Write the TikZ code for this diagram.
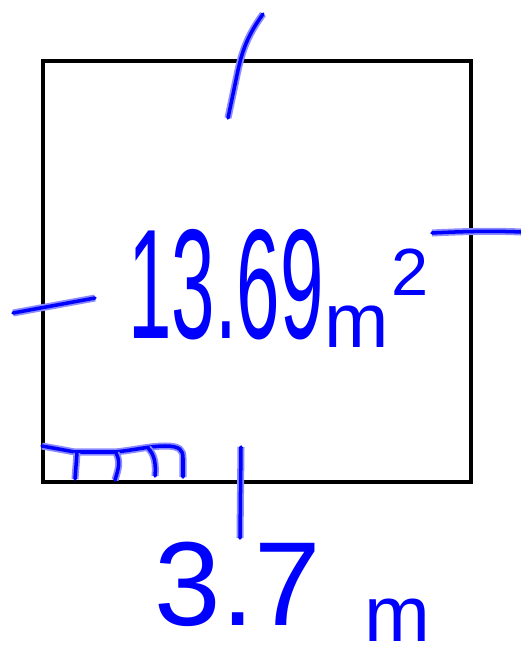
\documentclass[tikz,border=0pt]{standalone}
\usepackage{fontspec}
\setmainfont{Liberation Sans}
\usepackage{graphicx}
\tikzset{
  side/.style={draw=black, line width=2.6pt, line cap=rect},
  ink/.style={draw=blue, line width=2pt, line cap=round, line join=round,
    preaction={draw=blue!45, line width=4pt}},
  hand/.style={text=blue, inner sep=0pt}
}
\begin{document}
\begin{tikzpicture}[x=0.02cm, y=-0.02cm]
\useasboundingbox (0,0) rectangle (521,660);
\draw[side] (43,61) rectangle (471,482);
% tick marks on the four sides
\draw[ink] (263,14) .. controls (248,35) and (242,50) .. (237,75) -- (228,118);
\draw[ink] (13,313) -- (95,298);
\draw[ink] (432,233) .. controls (470,231) and (500,231) .. (521,232);
\draw[ink] (241,447) -- (240,538);
% right angle mark
\draw[ink] (42,446) -- (75,452) -- (115,452) .. controls (135,450) and (150,446) .. (165,446)
  .. controls (180,446) and (183,450) .. (183,458) -- (183,477);
\draw[ink] (77,453) -- (75,479);
\draw[ink] (116,453) .. controls (121,462) and (118,470) .. (115,480);
\draw[ink] (148,448) .. controls (155,455) and (156,465) .. (155,476);
% area
\node[hand, font=\fontsize{89}{89}\selectfont] (area) at (226,285) {\scalebox{0.5}[1]{13.69}};
\node[hand, font=\fontsize{44}{44}\selectfont] (areaunit) at (357,327) {m};
\node[hand, font=\fontsize{38}{38}\selectfont] (areaexp) at (410,272) {2};
% side length
\node[hand, font=\fontsize{68}{68}\selectfont] (len) at (238,584) {3.7};
\node[hand, font=\fontsize{45}{45}\selectfont] (lenunit) at (397,620) {m};
\end{tikzpicture}
\end{document}
